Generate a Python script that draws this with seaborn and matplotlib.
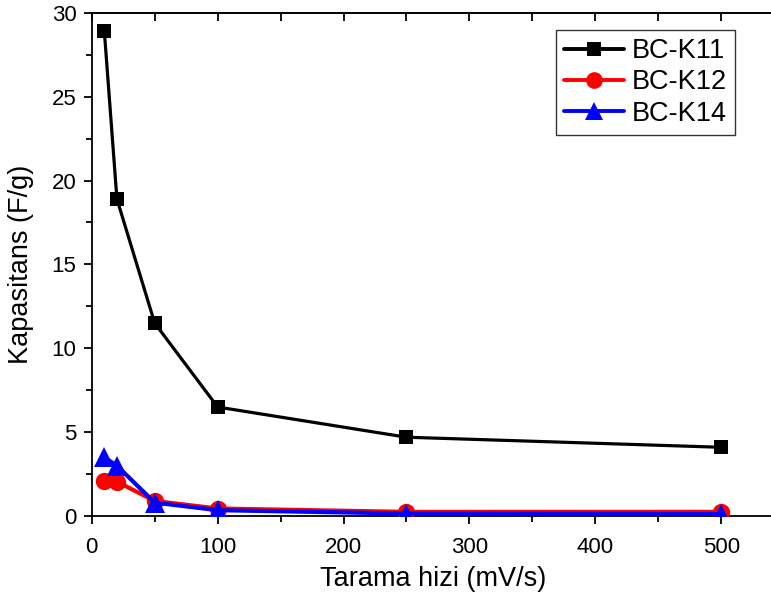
import matplotlib
matplotlib.use("Agg")
import matplotlib.pyplot as plt
import matplotlib.colors as mcolors
import seaborn as sns
import pandas as pd
from matplotlib.ticker import MultipleLocator

scan_rate = [10, 20, 50, 100, 250, 500]
bc_k11 = [28.9, 18.9, 11.5, 6.5, 4.7, 4.1]
bc_k12 = [2.1, 2.05, 0.9, 0.45, 0.25, 0.25]
bc_k14 = [3.5, 3.0, 0.8, 0.35, 0.15, 0.12]
series_names = ["BC-K11", "BC-K12", "BC-K14"]

df = pd.DataFrame({
    "x": scan_rate * 3,
    "y": bc_k11 + bc_k12 + bc_k14,
    "s": [n for n in series_names for _ in scan_rate],
})

sns.set_theme(style="ticks")
plt.rcParams['font.family'] = ['Liberation Sans', 'DejaVu Sans']
plt.rcParams['text.color'] = 'black'
plt.rcParams['axes.labelcolor'] = 'black'
plt.rcParams['xtick.color'] = 'black'
plt.rcParams['ytick.color'] = 'black'

fig = plt.figure(figsize=(7.71, 6.10), dpi=100)
ax = fig.add_axes([0.119, 0.154, 0.885, 0.825])

sns.lineplot(data=df, x="x", y="y", hue="s", style="s",
             palette=["black", "red", "blue"],
             markers={"BC-K11": "s", "BC-K12": "o", "BC-K14": "^"},
             dashes=False, linewidth=2.4, markersize=11,
             markeredgewidth=0, ax=ax, legend=True)

for line in ax.lines:
    c = mcolors.to_hex(line.get_color())
    if c == "#ff0000":
        line.set_linewidth(3.0)
        line.set_markersize(12.5)
        line.set_zorder(3)
    elif c == "#0000ff":
        line.set_linewidth(3.0)
        line.set_markersize(14)
        line.set_zorder(4)
    else:
        line.set_linewidth(2.3)
        line.set_markersize(10.5)

ax.set_xlim(0, 542)
ax.set_ylim(0, 30)
ax.xaxis.set_major_locator(MultipleLocator(100))
ax.xaxis.set_minor_locator(MultipleLocator(50))
ax.yaxis.set_major_locator(MultipleLocator(5))
ax.yaxis.set_minor_locator(MultipleLocator(2.5))
ax.tick_params(which="major", length=6, width=1.3, labelsize=16)
ax.tick_params(which="minor", length=4, width=1.3)
ax.tick_params(axis="x", which="both", pad=9)
ax.tick_params(axis="y", which="both", pad=5)
for sp in ax.spines.values():
    sp.set_linewidth(1.3)
    sp.set_color("black")
ax.spines["right"].set_visible(False)

# inward ticks on top spine
sec = ax.secondary_xaxis("top")
sec.xaxis.set_major_locator(MultipleLocator(100))
sec.xaxis.set_minor_locator(MultipleLocator(50))
sec.tick_params(which="major", direction="in", length=6, width=1.3, labeltop=False)
sec.tick_params(which="minor", direction="in", length=6, width=1.3)
sec.spines["top"].set_linewidth(1.3)

ax.set_xlabel("Tarama hizi (mV/s)", fontsize=19.5, labelpad=6)
ax.set_ylabel("Kapasitans (F/g)", fontsize=19.5, labelpad=13)

leg = ax.legend(loc="upper right", bbox_to_anchor=(0.943, 0.966), fontsize=19.5,
                frameon=True, fancybox=False, edgecolor="black",
                handlelength=2.2, handletextpad=0.3, borderpad=0.3,
                labelspacing=0.2, borderaxespad=0)
leg.get_frame().set_linewidth(1.0)
msz = [10, 12, 13]
for h, m in zip(leg.legend_handles, msz):
    h.set_markersize(m)
    h.set_linewidth(2.8)

fig.savefig("out.png", dpi=100)
